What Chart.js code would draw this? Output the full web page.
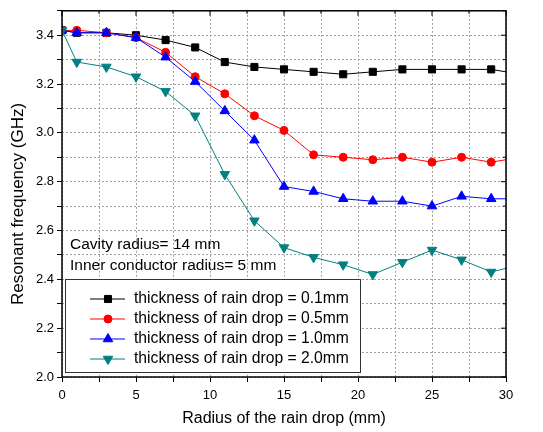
<!DOCTYPE html>
<html>
<head>
<meta charset="utf-8">
<script src="https://cdn.jsdelivr.net/npm/chart.js@4"></script>
<style>
  html, body { margin: 0; padding: 0; background: #fff; }
  #wrap { width: 543px; height: 432px; }
</style>
</head>
<body>
<div id="wrap"><canvas id="chart" width="543" height="432"></canvas></div>
<script>
// Radius of the rain drop (mm)
var radius = [0, 1, 3, 5, 7, 9, 11, 13, 15, 17, 19, 21, 23, 25, 27, 29, 31];

// Resonant frequency (GHz) for each thickness
var thick01 = [3.42, 3.41, 3.41, 3.40, 3.38, 3.35, 3.29, 3.27, 3.26, 3.25, 3.24, 3.25, 3.26, 3.26, 3.26, 3.26, 3.24];
var thick05 = [3.42, 3.42, 3.41, 3.39, 3.33, 3.23, 3.16, 3.07, 3.01, 2.91, 2.90, 2.89, 2.90, 2.88, 2.90, 2.88, 2.90];
var thick10 = [3.42, 3.41, 3.41, 3.39, 3.31, 3.21, 3.09, 2.97, 2.78, 2.76, 2.73, 2.72, 2.72, 2.70, 2.74, 2.73, 2.73];
var thick20 = [3.42, 3.29, 3.27, 3.23, 3.17, 3.07, 2.83, 2.64, 2.53, 2.49, 2.46, 2.42, 2.47, 2.52, 2.48, 2.43, 2.46];

var seriesLabels = [
    'thickness of rain drop = 0.1mm',
    'thickness of rain drop = 0.5mm',
    'thickness of rain drop = 1.0mm',
    'thickness of rain drop = 2.0mm'
];
var notes = ['Cavity radius= 14 mm', 'Inner conductor radius= 5 mm'];
var yTitle = 'Resonant frequency (GHz)';

var FONT = '"Liberation Sans", Arial, sans-serif';

function toPoints(ys) {
    return radius.map(function(x, i) { return { x: x, y: ys[i] }; });
}

function makeSet(label, ys, color, style, r, rot, order) {
    return {
        label: label,
        data: toPoints(ys),
        borderColor: color,
        backgroundColor: color,
        borderWidth: 1,
        pointStyle: style,
        pointRadius: r,
        pointRotation: rot || 0,
        pointBorderWidth: 1,
        tension: 0,
        order: order
    };
}

// later series drawn on top, like the original plot
var datasets = [
    makeSet(seriesLabels[0], thick01, '#000000', 'rect', 5, 0, 4),
    makeSet(seriesLabels[1], thick05, '#ff0000', 'circle', 4, 0, 3),
    makeSet(seriesLabels[2], thick10, '#0000ff', 'triangle', 5.5, 0, 2),
    makeSet(seriesLabels[3], thick20, '#008080', 'triangle', 5.5, 180, 1)
];

// frame, inner ticks, y title, notes and legend box
var decorations = {
    id: 'decorations',
    afterDraw: function(chart) {
        var ctx = chart.ctx;
        var a = chart.chartArea;
        var xs = chart.scales.x, ys = chart.scales.y;
        ctx.save();
        ctx.strokeStyle = '#000';
        ctx.lineWidth = 1.5;
        ctx.strokeRect(a.left, a.top, a.right - a.left, a.bottom - a.top);

        // inward ticks on top and right
        ctx.lineWidth = 1;
        for (var v = 0; v <= 30; v += 2.5) {
            var px = xs.getPixelForValue(v);
            var len = (v % 5 === 0) ? 5 : 3;
            ctx.beginPath();
            ctx.moveTo(px, a.top);
            ctx.lineTo(px, a.top + len);
            ctx.stroke();
        }
        for (var k = 20; k <= 35; k++) {
            var py = ys.getPixelForValue(k / 10);
            var l2 = (k % 2 === 0) ? 5 : 3;
            ctx.beginPath();
            ctx.moveTo(a.right, py);
            ctx.lineTo(a.right - l2, py);
            ctx.stroke();
        }

        // y axis title
        ctx.fillStyle = '#000';
        ctx.save();
        ctx.translate(18, 204);
        ctx.rotate(-Math.PI / 2);
        ctx.font = '17px ' + FONT;
        ctx.textAlign = 'center';
        ctx.textBaseline = 'middle';
        ctx.fillText(yTitle, 0, 0);
        ctx.restore();

        // notes
        ctx.font = '15.5px ' + FONT;
        ctx.textBaseline = 'middle';
        ctx.textAlign = 'left';
        ctx.fillText(notes[0], 70, 245);
        ctx.fillText(notes[1], 70, 266);

        // legend box
        ctx.fillStyle = '#fff';
        ctx.fillRect(65, 279, 295, 93);
        ctx.strokeStyle = '#333';
        ctx.lineWidth = 1;
        ctx.strokeRect(65.5, 279.5, 295, 93);
        chart.data.datasets.forEach(function(ds, i) {
            var y = 299 + i * 20;
            ctx.strokeStyle = ds.borderColor;
            ctx.lineWidth = 1;
            ctx.beginPath();
            ctx.moveTo(90, y);
            ctx.lineTo(125, y);
            ctx.stroke();
            ctx.fillStyle = ds.backgroundColor;
            Chart.helpers.drawPoint(ctx, {
                pointStyle: ds.pointStyle,
                radius: ds.pointRadius,
                rotation: ds.pointRotation,
                borderWidth: 1
            }, 108, y);
            ctx.fillStyle = '#000';
            ctx.font = '15.7px ' + FONT;
            ctx.fillText(ds.label, 134, y);
        });
        ctx.restore();
    }
};

var ctx = document.getElementById('chart').getContext('2d');
new Chart(ctx, {
    type: 'line',
    data: { datasets: datasets },
    options: {
        responsive: false,
        animation: false,
        layout: { padding: { left: 0, right: 37, top: 8, bottom: 0 } },
        plugins: {
            legend: { display: false },
            tooltip: { enabled: false }
        },
        scales: {
            x: {
                type: 'linear',
                min: 0,
                max: 30,
                afterFit: function(s) { s.height = 55; },
                afterBuildTicks: function(s) {
                    var t = [];
                    for (var v = 0; v <= 30; v += 2.5) t.push({ value: v });
                    s.ticks = t;
                },
                ticks: {
                    autoSkip: false,
                    maxRotation: 0,
                    color: '#000',
                    font: { family: FONT, size: 13 },
                    padding: 6,
                    callback: function(v) { return v % 5 === 0 ? String(v) : ''; }
                },
                grid: {
                    color: '#a0a0a0',
                    tickColor: '#000',
                    tickBorderDash: [],
                    tickLength: 5
                },
                border: { display: false, dash: [2, 2] },
                title: {
                    display: true,
                    text: 'Radius of the rain drop (mm)',
                    color: '#000',
                    font: { family: FONT, size: 16 },
                    padding: { top: 9 }
                }
            },
            y: {
                min: 2.0,
                max: 3.5,
                afterFit: function(s) { s.width = 62; },
                afterBuildTicks: function(s) {
                    var t = [];
                    for (var k = 20; k <= 35; k++) t.push({ value: k / 10 });
                    s.ticks = t;
                },
                ticks: {
                    autoSkip: false,
                    color: '#000',
                    font: { family: FONT, size: 13 },
                    padding: 3,
                    callback: function(v) {
                        var k = Math.round(v * 10);
                        return (k % 2 === 0 && k <= 34) ? (k / 10).toFixed(1) : '';
                    }
                },
                grid: {
                    color: '#a0a0a0',
                    tickColor: '#000',
                    tickBorderDash: [],
                    tickLength: 5
                },
                border: { display: false, dash: [2, 2] }
            }
        }
    },
    plugins: [decorations]
});
</script>
</body>
</html>
